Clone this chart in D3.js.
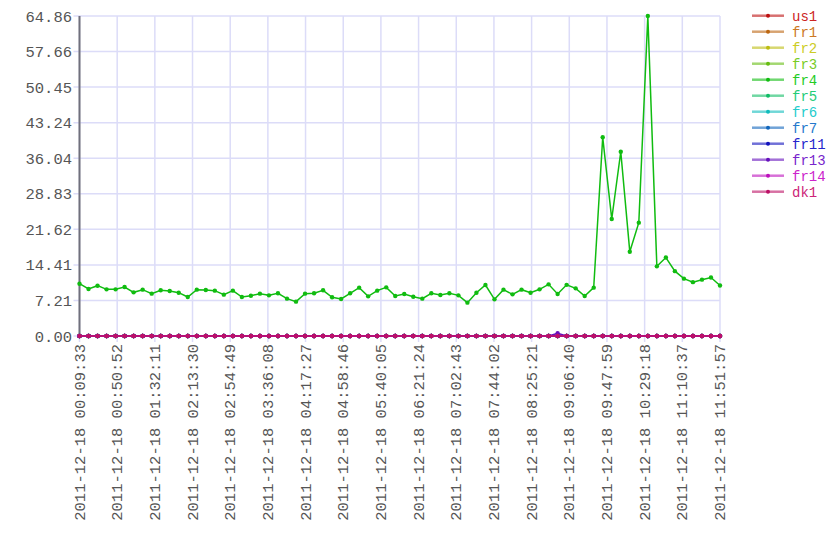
<!DOCTYPE html>
<html>
<head>
<meta charset="utf-8">
<script src="https://cdn.jsdelivr.net/npm/d3@7"></script>
<style>
  html, body { margin: 0; padding: 0; background: #fff; }
  svg { display: block; }
  text { font-family: "Liberation Mono", "DejaVu Sans Mono", monospace; }
</style>
</head>
<body>
<svg id="chart" width="840" height="560"></svg>
<script>
// ---- data ----
const seriesNames = ["us1", "fr1", "fr2", "fr3", "fr4", "fr5", "fr6", "fr7", "fr11", "fr13", "fr14", "dk1"];
const seriesHues = [0, 30, 60, 90, 120, 150, 180, 210, 240, 270, 300, 330];

const sampleTimes = [
  "00:09:33","00:19:27","00:29:20","00:39:14","00:49:07","00:59:01","01:08:54","01:18:48",
  "01:28:42","01:38:35","01:48:29","01:58:22","02:08:16","02:18:09","02:28:03","02:37:57",
  "02:47:50","02:57:44","03:07:37","03:17:31","03:27:25","03:37:18","03:47:12","03:57:05",
  "04:06:59","04:16:52","04:26:46","04:36:40","04:46:33","04:56:27","05:06:20","05:16:14",
  "05:26:07","05:36:01","05:45:55","05:55:48","06:05:42","06:15:35","06:25:29","06:35:22",
  "06:45:16","06:55:10","07:05:03","07:14:57","07:24:50","07:34:44","07:44:38","07:54:31",
  "08:04:25","08:14:18","08:24:12","08:34:05","08:43:59","08:53:53","09:03:46","09:13:40",
  "09:23:33","09:33:27","09:43:20","09:53:14","10:03:08","10:13:01","10:22:55","10:32:48",
  "10:42:42","10:52:36","11:02:29","11:12:23","11:22:16","11:32:10","11:42:03","11:51:57"
];

const fr4Values = [
  10.6, 9.53, 10.2, 9.46, 9.46, 9.93, 8.85, 9.39, 8.58, 9.26, 9.12, 8.78,
  7.9, 9.39, 9.32, 9.19, 8.38, 9.19, 7.9, 8.17, 8.58, 8.24, 8.65, 7.57,
  6.96, 8.58, 8.65, 9.26, 7.84, 7.5, 8.65, 9.8, 8.04, 9.19, 9.86, 8.1,
  8.51, 7.97, 7.57, 8.65, 8.31, 8.65, 8.24, 6.76, 8.78, 10.34, 7.43, 9.39,
  8.44, 9.39, 8.78, 9.46, 10.47, 8.51, 10.37, 9.66, 8.1, 9.8, 40.27, 23.71,
  37.35, 17.09, 22.97, 64.86, 14.12, 15.9, 13.14, 11.62, 10.91, 11.42, 11.86, 10.23
];

const fr13Values = [
  0,0,0,0,0,0,0,0,0,0,0,0,0,0,0,0,0,0,0,0,0,0,0,0,
  0,0,0,0,0,0,0,0,0,0,0,0,0,0,0,0,0,0,0,0,0,0,0,0,
  0,0,0,0,0,0.55,0,0,0,0,0,0,0,0,0,0,0,0,0,0,0,0,0,0
];

const zeroValues = [
  0,0,0,0,0,0,0,0,0,0,0,0,0,0,0,0,0,0,0,0,0,0,0,0,
  0,0,0,0,0,0,0,0,0,0,0,0,0,0,0,0,0,0,0,0,0,0,0,0,
  0,0,0,0,0,0,0,0,0,0,0,0,0,0,0,0,0,0,0,0,0,0,0,0
];

const seriesValues = {
  us1: zeroValues, fr1: zeroValues, fr2: zeroValues, fr3: zeroValues,
  fr4: fr4Values, fr5: zeroValues, fr6: zeroValues, fr7: zeroValues,
  fr11: zeroValues, fr13: fr13Values, fr14: zeroValues, dk1: zeroValues
};

const yTickValues = [0.00, 7.21, 14.41, 21.62, 28.83, 36.04, 43.24, 50.45, 57.66, 64.86];
const xTickTimes = [
  "00:09:33","00:50:52","01:32:11","02:13:30","02:54:49","03:36:08","04:17:27","04:58:46",
  "05:40:05","06:21:24","07:02:43","07:44:02","08:25:21","09:06:40","09:47:59","10:29:18",
  "11:10:37","11:51:57"
];
const datePrefix = "2011-12-18";

// ---- chart ----
(function () {
const parse = d3.timeParse("%Y-%m-%d %H:%M:%S");
const times = sampleTimes.map(t => parse(datePrefix + " " + t));
const xTicks = xTickTimes.map(t => parse(datePrefix + " " + t));

const pLeft = 79.5, pRight = 720, pTop = 16, pBottom = 336;
const svg = d3.select("#chart");

const x = d3.scaleTime().domain([times[0], times[times.length - 1]]).range([pLeft, pRight]);
const y = d3.scaleLinear().domain([0, 64.86]).range([pBottom, pTop]);

function colorOf(i) { return d3.hsl(seriesHues[i], 0.84, 0.40).toString(); }
function legendColorOf(i) { return d3.hsl(seriesHues[i], 0.70, 0.47).toString(); }

const grid = svg.append("g");
grid.selectAll("line.h").data(yTickValues).join("line")
  .attr("x1", pLeft - 6).attr("x2", pRight)
  .attr("y1", d => y(d)).attr("y2", d => y(d))
  .attr("stroke", "#dcdcf8").attr("stroke-width", 1.5);
grid.selectAll("line.v").data(xTicks).join("line")
  .attr("x1", d => x(d)).attr("x2", d => x(d))
  .attr("y1", pTop).attr("y2", pBottom + 6)
  .attr("stroke", "#dcdcf8").attr("stroke-width", 1.5);

svg.append("line").attr("x1", pLeft).attr("x2", pLeft).attr("y1", pTop).attr("y2", pBottom)
  .attr("stroke", "#70707c").attr("stroke-width", 2);

svg.append("g").selectAll("text").data(yTickValues).join("text")
  .attr("x", 72).attr("y", d => y(d)).attr("dy", "0.36em")
  .attr("text-anchor", "end").attr("font-size", "15.5px").attr("fill", "#555")
  .text(d => d.toFixed(2));

const fmt = d3.timeFormat("%Y-%m-%d %H:%M:%S");
svg.append("g").selectAll("text").data(xTicks).join("text")
  .attr("transform", d => `translate(${x(d) + 5},${344}) rotate(-90)`)
  .attr("text-anchor", "end").attr("font-size", "15.5px").attr("fill", "#555")
  .text(d => fmt(d));

const line = d3.line().x((d, i) => x(times[i])).y(d => y(d));
seriesNames.forEach((name, si) => {
  const vals = seriesValues[name];
  const g = svg.append("g");
  g.append("path").datum(vals).attr("d", line)
    .attr("fill", "none").attr("stroke", colorOf(si)).attr("stroke-width", 1.5);
  g.selectAll("circle").data(vals).join("circle")
    .attr("cx", (d, i) => x(times[i])).attr("cy", d => y(d)).attr("r", 2.2)
    .attr("fill", colorOf(si));
});

const leg = svg.append("g");
seriesNames.forEach((name, si) => {
  const ly = 15.7 + si * 16;
  leg.append("line").attr("x1", 752).attr("x2", 784).attr("y1", ly).attr("y2", ly)
    .attr("stroke", colorOf(si)).attr("stroke-opacity", 0.6).attr("stroke-width", 2.5);
  leg.append("circle").attr("cx", 768).attr("cy", ly).attr("r", 2).attr("fill", colorOf(si));
  leg.append("text").attr("x", 792).attr("y", ly).attr("dy", "0.36em")
    .attr("font-size", "14px").attr("fill", legendColorOf(si)).text(name);
});
})();
</script>
</body>
</html>
